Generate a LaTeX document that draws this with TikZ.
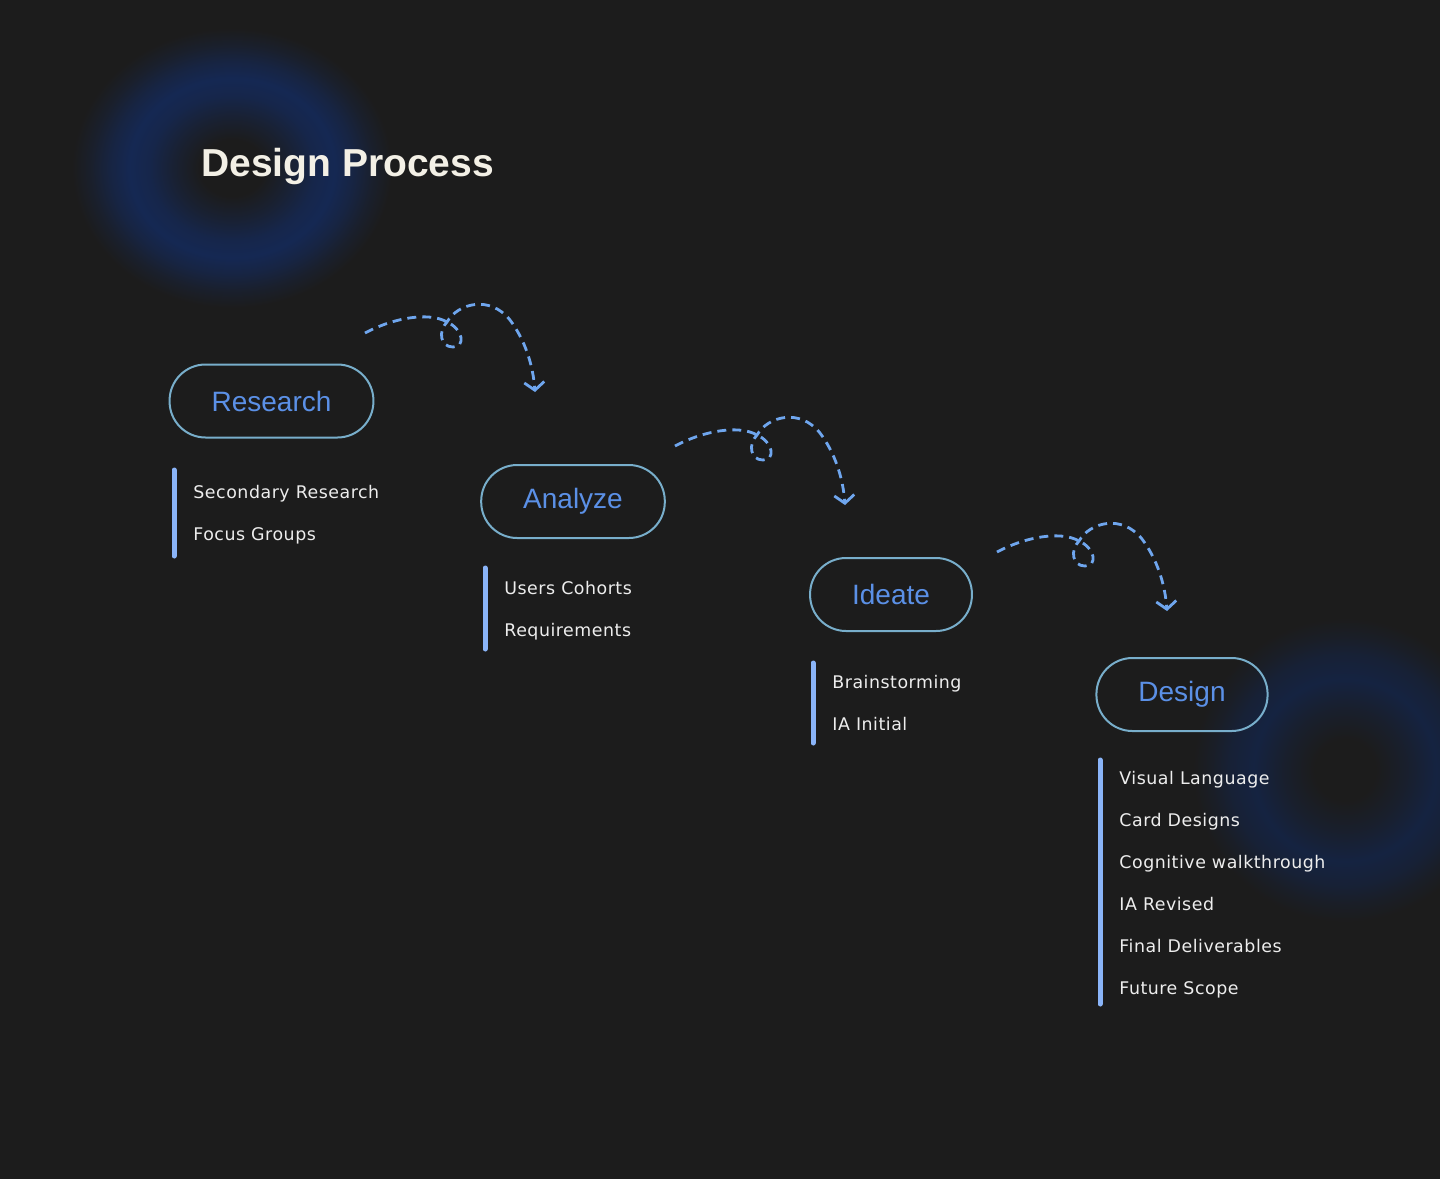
\documentclass[tikz,border=0pt]{standalone}
\usepackage{fontspec}
\setmainfont{Liberation Sans}
\newfontfamily\listfont[LetterSpace=3]{DejaVu Sans}
\usetikzlibrary{arrows.meta,calc}
\definecolor{bgc}{HTML}{1C1C1C}
\definecolor{glowc}{HTML}{152853}
\definecolor{glowd}{HTML}{152341}
\definecolor{pillc}{HTML}{78AECB}
\definecolor{labc}{HTML}{5B90E6}
\definecolor{barc}{HTML}{8AB4F8}
\definecolor{hopc}{HTML}{6FA6EE}
\definecolor{titc}{HTML}{F3F0E6}
\pgfdeclareradialshading{glowring}{\pgfpoint{0bp}{0bp}}{color(0bp)=(bgc); color(5bp)=(bgc); color(9bp)=(glowc!40!bgc); color(13bp)=(glowc!85!bgc); color(16bp)=(glowc); color(19bp)=(glowc!70!bgc); color(22bp)=(glowc!30!bgc); color(25bp)=(bgc); color(50bp)=(bgc)}
\pgfdeclareradialshading{glowfaint}{\pgfpoint{0bp}{0bp}}{color(0bp)=(bgc); color(5bp)=(bgc); color(10bp)=(glowd!45!bgc); color(15bp)=(glowd); color(19bp)=(glowd!70!bgc); color(22bp)=(glowd!30!bgc); color(25bp)=(bgc); color(50bp)=(bgc)}
\begin{document}
\begin{tikzpicture}[x={(0.5pt,0)},y={(0,-0.5pt)},
    pill/.style={draw=pillc,line width=1pt,rounded corners=18pt,minimum height=36.5pt,inner xsep=21pt,text=labc,font=\fontsize{14}{16}\selectfont},
    item/.style={anchor=base west,inner sep=0pt,text=white!93!black,font=\listfont\fontsize{8.7}{10}\selectfont},
    bar/.style={draw=barc,line width=2.5pt,line cap=round},
    hopline/.style={draw=hopc,line width=1.4pt,dash pattern=on 4.5pt off 3pt,-{Straight Barb[length=4pt,width=10pt]}},
    pics/hop/.style={code={\draw[hopline] (0,0) .. controls (30,-16) and (65,-21) .. (82,-11) .. controls (98,-4) and (101,14) .. (88,14) .. controls (75,14) and (73,-2) .. (82,-11) .. controls (93,-30) and (125,-38) .. (145,-13) .. controls (160,7) and (168,32) .. (170,59);}}]
    \fill[bgc] (0,0) rectangle (1440,1179);
    \clip (0,0) rectangle (1440,1179);
    \shade[shading=glowring] (232,168) ellipse [x radius=80pt,y radius=70pt];
    \shade[shading=glowfaint] (1345,770) circle [radius=76pt];
    \node[anchor=base west,inner sep=0pt,text=titc,font=\bfseries\fontsize{19.5}{22}\selectfont] (title) at (201,176) {Design Process};
    \node[pill] (research) at (271.5,401) {Research};
    \node[pill] (analyze) at (573,501.5) {Analyze};
    \node[pill] (ideate) at (891,594.5) {Ideate};
    \node[pill] (design) at (1182,694.5) {Design};
    \foreach \t [count=\i] in {Secondary Research,Focus Groups} \node[item] (research-\i) at (193,456+42*\i) {\t};
    \foreach \t [count=\i] in {Users Cohorts,Requirements} \node[item] (analyze-\i) at (504,552+42*\i) {\t};
    \foreach \t [count=\i] in {Brainstorming,IA Initial} \node[item] (ideate-\i) at (832,646+42*\i) {\t};
    \foreach \t [count=\i] in {Visual Language,Card Designs,Cognitive walkthrough,IA Revised,Final Deliverables,Future Scope} \node[item] (design-\i) at (1119,742+42*\i) {\t};
    \draw[bar] ($(research-1.base west)+(-19,-28)$) -- ($(research-2.base west)+(-19,16)$);
    \draw[bar] ($(analyze-1.base west)+(-19,-26)$) -- ($(analyze-2.base west)+(-19,13)$);
    \draw[bar] ($(ideate-1.base west)+(-19,-25)$) -- ($(ideate-2.base west)+(-19,13)$);
    \draw[bar] ($(design-1.base west)+(-19,-24)$) -- ($(design-6.base west)+(-19,10)$);
    \coordinate (hop1) at (365,333);
    \coordinate (hop2) at (675,446);
    \coordinate (hop3) at (997,552);
    \foreach \h in {hop1,hop2,hop3} \pic at (\h) {hop};
\end{tikzpicture}
\end{document}
